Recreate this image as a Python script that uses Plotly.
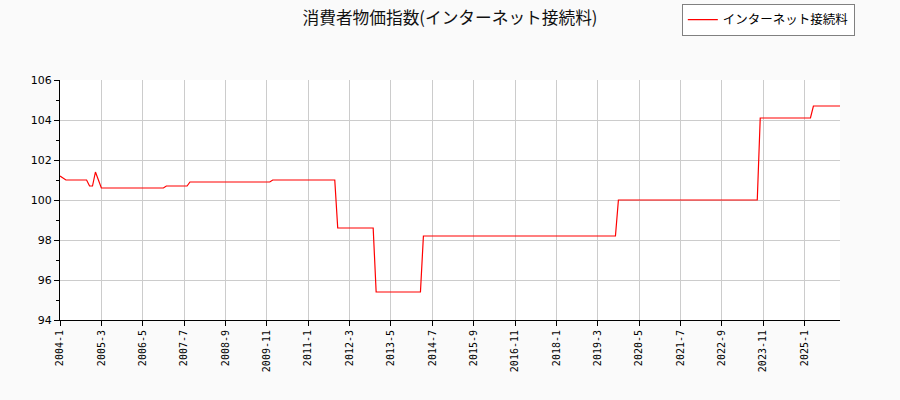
"""
Consumer price index (internet subscription) line chart
"""
import plotly.graph_objects as go

# monthly index values, one row per year (2004-1 .. 2026-1)
index_values = [
    101.2, 101.1, 101.0, 101.0, 101.0, 101.0, 101.0, 101.0, 101.0, 101.0, 100.7, 100.7,  # 2004
    101.4, 101.0, 100.6, 100.6, 100.6, 100.6, 100.6, 100.6, 100.6, 100.6, 100.6, 100.6,  # 2005
    100.6, 100.6, 100.6, 100.6, 100.6, 100.6, 100.6, 100.6, 100.6, 100.6, 100.6, 100.6,  # 2006
    100.7, 100.7, 100.7, 100.7, 100.7, 100.7, 100.7, 100.7, 100.9, 100.9, 100.9, 100.9,  # 2007
    100.9, 100.9, 100.9, 100.9, 100.9, 100.9, 100.9, 100.9, 100.9, 100.9, 100.9, 100.9,  # 2008
    100.9, 100.9, 100.9, 100.9, 100.9, 100.9, 100.9, 100.9, 100.9, 100.9, 100.9, 100.9,  # 2009
    101.0, 101.0, 101.0, 101.0, 101.0, 101.0, 101.0, 101.0, 101.0, 101.0, 101.0, 101.0,  # 2010
    101.0, 101.0, 101.0, 101.0, 101.0, 101.0, 101.0, 101.0, 101.0, 101.0, 98.6, 98.6,    # 2011
    98.6, 98.6, 98.6, 98.6, 98.6, 98.6, 98.6, 98.6, 98.6, 98.6, 98.6, 95.4,              # 2012
    95.4, 95.4, 95.4, 95.4, 95.4, 95.4, 95.4, 95.4, 95.4, 95.4, 95.4, 95.4,              # 2013
    95.4, 95.4, 95.4, 98.2, 98.2, 98.2, 98.2, 98.2, 98.2, 98.2, 98.2, 98.2,              # 2014
    98.2, 98.2, 98.2, 98.2, 98.2, 98.2, 98.2, 98.2, 98.2, 98.2, 98.2, 98.2,              # 2015
    98.2, 98.2, 98.2, 98.2, 98.2, 98.2, 98.2, 98.2, 98.2, 98.2, 98.2, 98.2,              # 2016
    98.2, 98.2, 98.2, 98.2, 98.2, 98.2, 98.2, 98.2, 98.2, 98.2, 98.2, 98.2,              # 2017
    98.2, 98.2, 98.2, 98.2, 98.2, 98.2, 98.2, 98.2, 98.2, 98.2, 98.2, 98.2,              # 2018
    98.2, 98.2, 98.2, 98.2, 98.2, 98.2, 98.2, 98.2, 98.2, 100.0, 100.0, 100.0,           # 2019
    100.0, 100.0, 100.0, 100.0, 100.0, 100.0, 100.0, 100.0, 100.0, 100.0, 100.0, 100.0,  # 2020
    100.0, 100.0, 100.0, 100.0, 100.0, 100.0, 100.0, 100.0, 100.0, 100.0, 100.0, 100.0,  # 2021
    100.0, 100.0, 100.0, 100.0, 100.0, 100.0, 100.0, 100.0, 100.0, 100.0, 100.0, 100.0,  # 2022
    100.0, 100.0, 100.0, 100.0, 100.0, 100.0, 100.0, 100.0, 100.0, 104.1, 104.1, 104.1,  # 2023
    104.1, 104.1, 104.1, 104.1, 104.1, 104.1, 104.1, 104.1, 104.1, 104.1, 104.1, 104.1,  # 2024
    104.1, 104.1, 104.1, 104.7, 104.7, 104.7, 104.7, 104.7, 104.7, 104.7, 104.7, 104.7,  # 2025
    104.7,                                                                               # 2026
]

# month labels "YYYY-M"
months = [f"{2004 + i // 12}-{i % 12 + 1}" for i in range(len(index_values))]

tick_labels = ['2004-1', '2005-3', '2006-5', '2007-7', '2008-9', '2009-11',
               '2011-1', '2012-3', '2013-5', '2014-7', '2015-9', '2016-11',
               '2018-1', '2019-3', '2020-5', '2021-7', '2022-9', '2023-11',
               '2025-1']

y_ticks = [94, 96, 98, 100, 102, 104, 106]

series_name = 'インターネット接続料'
title = '消費者物価指数(インターネット接続料)'

fig = go.Figure()
fig.add_trace(go.Scatter(x=months, y=index_values,
                         mode='lines',
                         name=series_name,
                         line=dict(color='#ff0000', width=1.2)))

fig.update_layout(
    width=900, height=400,
    margin=dict(l=60, r=60, t=80, b=80, autoexpand=False),
    paper_bgcolor='#fafafa',
    plot_bgcolor='white',
    font=dict(family='Noto Sans CJK JP', color='black'),
    title=dict(text=title, x=0.5, xanchor='center', y=0.955, yanchor='middle',
               font=dict(size=16.7, family='Noto Sans CJK JP', color='#111')),
    showlegend=True,
    legend=dict(x=1.019, y=1.317, xanchor='right', yanchor='top',
                bgcolor='white', bordercolor='#808080', borderwidth=1,
                font=dict(size=12.5, family='Noto Sans CJK JP'),
                itemwidth=30),
)

fig.update_xaxes(type='category',
                 range=[0, len(index_values) - 1],
                 tickmode='array', tickvals=tick_labels, ticktext=tick_labels,
                 tickangle=-90,
                 tickfont=dict(size=10, family='DejaVu Sans Mono'),
                 ticks='outside', ticklen=5, tickcolor='black',
                 showline=True, linecolor='black', linewidth=1,
                 showgrid=True, gridcolor='#cccccc', gridwidth=1,
                 zeroline=False)

fig.update_yaxes(range=[94, 106],
                 tickmode='array', tickvals=y_ticks,
                 tickfont=dict(size=11, family='DejaVu Sans'),
                 ticks='outside', ticklen=5, tickcolor='black',
                 minor=dict(ticks='outside', ticklen=3, dtick=1,
                            tickcolor='black', showgrid=False),
                 showline=True, linecolor='black', linewidth=1,
                 showgrid=True, gridcolor='#cccccc', gridwidth=1,
                 zeroline=False)

# drop the page's default body margin so the figure sits at the window corner
fig.write_html("out.html", config={'displayModeBar': False},
               post_script="document.body.style.margin = '0';")
